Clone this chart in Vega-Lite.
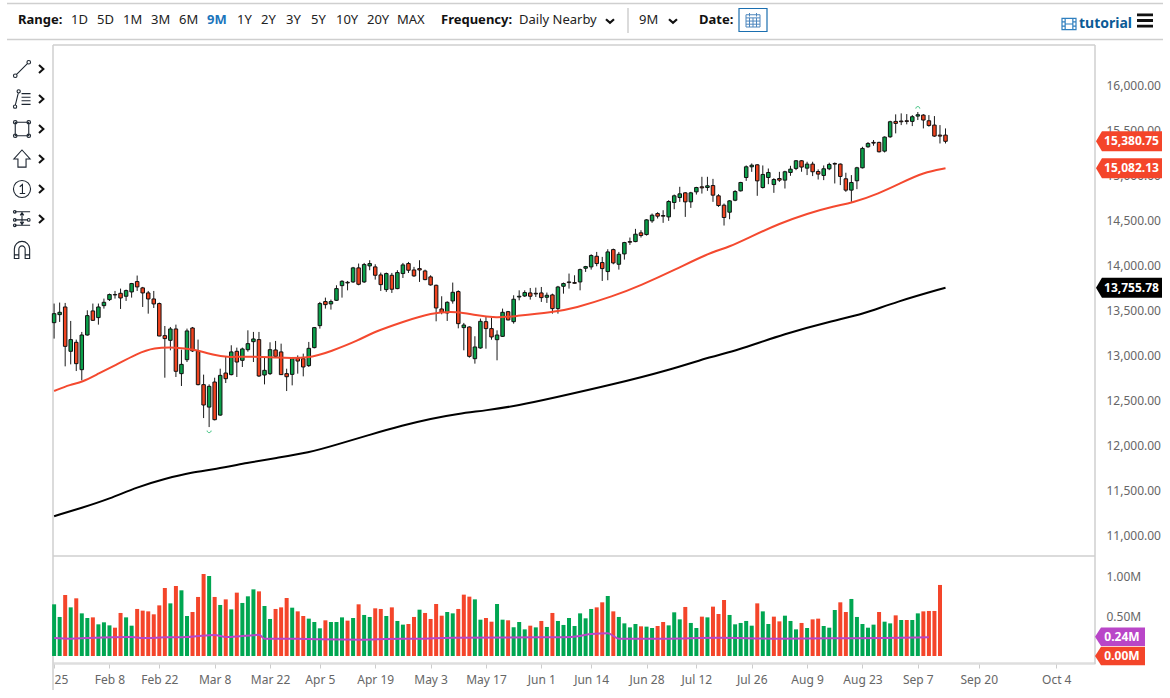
{"$schema":"https://vega.github.io/schema/vega-lite/v6.json","width":1170,"height":698,"autosize":{"type":"none"},"padding":0,"background":"white","config":{"view":{"stroke":null},"font":"Noto Sans"},
"datasets":{
"candles":[
{"d":0,"o":13368,"h":13580,"l":13191,"c":13468,"t":"up"},{"d":1,"o":13457,"h":13591,"l":13376,"c":13483,"t":"up"},{"d":2,"o":13542,"h":13587,"l":12883,"c":13105,"t":"down"},{"d":3,"o":13050,"h":13387,"l":12905,"c":13180,"t":"up"},{"d":4,"o":13150,"h":13180,"l":12831,"c":12913,"t":"down"},{"d":5,"o":12846,"h":13265,"l":12728,"c":13231,"t":"up"},{"d":6,"o":13231,"h":13505,"l":13224,"c":13446,"t":"up"},{"d":7,"o":13498,"h":13580,"l":13387,"c":13394,"t":"down"},{"d":8,"o":13424,"h":13580,"l":13346,"c":13542,"t":"up"},{"d":9,"o":13557,"h":13635,"l":13524,"c":13594,"t":"up"},
{"d":10,"o":13624,"h":13691,"l":13609,"c":13680,"t":"up"},{"d":11,"o":13680,"h":13720,"l":13635,"c":13676,"t":"down"},{"d":12,"o":13694,"h":13746,"l":13520,"c":13642,"t":"down"},{"d":13,"o":13661,"h":13735,"l":13609,"c":13724,"t":"up"},{"d":14,"o":13709,"h":13809,"l":13646,"c":13802,"t":"up"},{"d":15,"o":13824,"h":13891,"l":13720,"c":13765,"t":"down"},{"d":16,"o":13754,"h":13765,"l":13542,"c":13698,"t":"down"},{"d":17,"o":13698,"h":13720,"l":13468,"c":13631,"t":"down"},{"d":18,"o":13631,"h":13720,"l":13531,"c":13576,"t":"down"},{"d":19,"o":13580,"h":13591,"l":13217,"c":13220,"t":"down"},
{"d":20,"o":13224,"h":13331,"l":12757,"c":13191,"t":"down"},{"d":21,"o":13172,"h":13320,"l":13061,"c":13298,"t":"up"},{"d":22,"o":13298,"h":13346,"l":12765,"c":12828,"t":"down"},{"d":23,"o":12802,"h":13068,"l":12665,"c":12905,"t":"up"},{"d":24,"o":12957,"h":13302,"l":12931,"c":13276,"t":"up"},{"d":25,"o":13309,"h":13320,"l":13043,"c":13054,"t":"down"},{"d":26,"o":13054,"h":13180,"l":12672,"c":12680,"t":"down"},{"d":27,"o":12680,"h":12791,"l":12309,"c":12454,"t":"down"},{"d":28,"o":12431,"h":12683,"l":12209,"c":12661,"t":"up"},{"d":29,"o":12709,"h":12757,"l":12283,"c":12291,"t":"down"},
{"d":30,"o":12342,"h":12857,"l":12335,"c":12783,"t":"up"},{"d":31,"o":12809,"h":12987,"l":12698,"c":12746,"t":"down"},{"d":32,"o":12791,"h":13117,"l":12783,"c":13043,"t":"up"},{"d":33,"o":13050,"h":13091,"l":12765,"c":12931,"t":"down"},{"d":34,"o":12950,"h":13091,"l":12876,"c":13076,"t":"up"},{"d":35,"o":13068,"h":13283,"l":13046,"c":13135,"t":"up"},{"d":36,"o":13157,"h":13265,"l":12931,"c":13187,"t":"up"},{"d":37,"o":13180,"h":13265,"l":12765,"c":12776,"t":"down"},{"d":38,"o":12787,"h":12987,"l":12683,"c":12839,"t":"up"},{"d":39,"o":12802,"h":13150,"l":12787,"c":13068,"t":"up"},
{"d":40,"o":13065,"h":13165,"l":12987,"c":12994,"t":"down"},{"d":41,"o":13043,"h":13135,"l":12787,"c":12791,"t":"down"},{"d":42,"o":12802,"h":12857,"l":12609,"c":12768,"t":"down"},{"d":43,"o":12794,"h":12987,"l":12672,"c":12968,"t":"up"},{"d":44,"o":12972,"h":13005,"l":12802,"c":12942,"t":"down"},{"d":45,"o":12968,"h":13024,"l":12772,"c":12876,"t":"down"},{"d":46,"o":12891,"h":13154,"l":12876,"c":13083,"t":"up"},{"d":47,"o":13091,"h":13320,"l":13083,"c":13313,"t":"up"},{"d":48,"o":13335,"h":13598,"l":13302,"c":13580,"t":"up"},{"d":49,"o":13602,"h":13646,"l":13524,"c":13568,"t":"down"},
{"d":50,"o":13576,"h":13624,"l":13513,"c":13602,"t":"up"},{"d":51,"o":13616,"h":13783,"l":13609,"c":13746,"t":"up"},{"d":52,"o":13779,"h":13839,"l":13646,"c":13827,"t":"up"},{"d":53,"o":13816,"h":13831,"l":13727,"c":13809,"t":"down"},{"d":54,"o":13820,"h":13987,"l":13809,"c":13976,"t":"up"},{"d":55,"o":13976,"h":14024,"l":13783,"c":13794,"t":"down"},{"d":56,"o":13820,"h":14031,"l":13809,"c":14013,"t":"up"},{"d":57,"o":13998,"h":14061,"l":13950,"c":14024,"t":"up"},{"d":58,"o":13987,"h":14016,"l":13846,"c":13894,"t":"down"},{"d":59,"o":13898,"h":13924,"l":13720,"c":13790,"t":"down"},
{"d":60,"o":13735,"h":13924,"l":13709,"c":13913,"t":"up"},{"d":61,"o":13894,"h":13920,"l":13698,"c":13739,"t":"down"},{"d":62,"o":13746,"h":13950,"l":13739,"c":13924,"t":"up"},{"d":63,"o":13913,"h":14031,"l":13864,"c":14009,"t":"up"},{"d":64,"o":14024,"h":14042,"l":13920,"c":13950,"t":"down"},{"d":65,"o":13953,"h":13987,"l":13876,"c":13887,"t":"down"},{"d":66,"o":13968,"h":14061,"l":13820,"c":13953,"t":"down"},{"d":67,"o":13942,"h":13957,"l":13839,"c":13846,"t":"down"},{"d":68,"o":13876,"h":13894,"l":13779,"c":13787,"t":"down"},{"d":69,"o":13783,"h":13790,"l":13383,"c":13531,"t":"down"},
{"d":70,"o":13520,"h":13661,"l":13461,"c":13483,"t":"down"},{"d":71,"o":13476,"h":13605,"l":13387,"c":13594,"t":"up"},{"d":72,"o":13609,"h":13813,"l":13579,"c":13705,"t":"up"},{"d":73,"o":13713,"h":13727,"l":13305,"c":13357,"t":"down"},{"d":74,"o":13313,"h":13365,"l":13061,"c":13342,"t":"up"},{"d":75,"o":13320,"h":13328,"l":12979,"c":12994,"t":"down"},{"d":76,"o":12968,"h":13217,"l":12913,"c":13098,"t":"up"},{"d":77,"o":13087,"h":13413,"l":13079,"c":13383,"t":"up"},{"d":78,"o":13379,"h":13439,"l":13079,"c":13302,"t":"down"},{"d":79,"o":13302,"h":13424,"l":13179,"c":13209,"t":"down"},
{"d":80,"o":13179,"h":13283,"l":12950,"c":13231,"t":"up"},{"d":81,"o":13216,"h":13524,"l":13209,"c":13483,"t":"up"},{"d":82,"o":13490,"h":13498,"l":13394,"c":13398,"t":"down"},{"d":83,"o":13379,"h":13672,"l":13357,"c":13628,"t":"up"},{"d":84,"o":13653,"h":13727,"l":13616,"c":13661,"t":"up"},{"d":85,"o":13664,"h":13727,"l":13653,"c":13702,"t":"up"},{"d":86,"o":13698,"h":13753,"l":13624,"c":13661,"t":"down"},{"d":87,"o":13694,"h":13757,"l":13653,"c":13687,"t":"down"},{"d":88,"o":13698,"h":13764,"l":13598,"c":13646,"t":"down"},{"d":89,"o":13650,"h":13702,"l":13587,"c":13672,"t":"up"},
{"d":90,"o":13676,"h":13690,"l":13468,"c":13524,"t":"down"},{"d":91,"o":13524,"h":13776,"l":13468,"c":13764,"t":"up"},{"d":92,"o":13772,"h":13813,"l":13690,"c":13802,"t":"up"},{"d":93,"o":13820,"h":13913,"l":13746,"c":13813,"t":"down"},{"d":94,"o":13813,"h":13894,"l":13801,"c":13805,"t":"down"},{"d":95,"o":13820,"h":13968,"l":13727,"c":13957,"t":"up"},{"d":96,"o":13972,"h":13998,"l":13931,"c":13990,"t":"up"},{"d":97,"o":13987,"h":14127,"l":13957,"c":14113,"t":"up"},{"d":98,"o":14105,"h":14153,"l":13994,"c":14024,"t":"down"},{"d":99,"o":14035,"h":14098,"l":13831,"c":13968,"t":"down"},
{"d":100,"o":13935,"h":14183,"l":13839,"c":14153,"t":"up"},{"d":101,"o":14179,"h":14190,"l":14016,"c":14031,"t":"down"},{"d":102,"o":14016,"h":14153,"l":13957,"c":14127,"t":"up"},{"d":103,"o":14131,"h":14265,"l":14068,"c":14257,"t":"up"},{"d":104,"o":14268,"h":14313,"l":14231,"c":14261,"t":"down"},{"d":105,"o":14268,"h":14409,"l":14261,"c":14350,"t":"up"},{"d":106,"o":14365,"h":14394,"l":14313,"c":14335,"t":"down"},{"d":107,"o":14346,"h":14516,"l":14335,"c":14509,"t":"up"},{"d":108,"o":14498,"h":14579,"l":14476,"c":14561,"t":"up"},{"d":109,"o":14579,"h":14594,"l":14524,"c":14550,"t":"down"},
{"d":110,"o":14557,"h":14616,"l":14476,"c":14550,"t":"down"},{"d":111,"o":14542,"h":14727,"l":14498,"c":14713,"t":"up"},{"d":112,"o":14702,"h":14790,"l":14627,"c":14776,"t":"up"},{"d":113,"o":14757,"h":14876,"l":14709,"c":14798,"t":"up"},{"d":114,"o":14809,"h":14816,"l":14542,"c":14709,"t":"down"},{"d":115,"o":14709,"h":14820,"l":14642,"c":14809,"t":"up"},{"d":116,"o":14820,"h":14876,"l":14790,"c":14868,"t":"up"},{"d":117,"o":14876,"h":14987,"l":14801,"c":14864,"t":"down"},{"d":118,"o":14868,"h":14987,"l":14831,"c":14887,"t":"up"},{"d":119,"o":14890,"h":14964,"l":14709,"c":14783,"t":"down"},
{"d":120,"o":14776,"h":14794,"l":14653,"c":14668,"t":"down"},{"d":121,"o":14672,"h":14690,"l":14446,"c":14535,"t":"down"},{"d":122,"o":14594,"h":14727,"l":14516,"c":14720,"t":"up"},{"d":123,"o":14727,"h":14839,"l":14716,"c":14824,"t":"up"},{"d":124,"o":14831,"h":14931,"l":14824,"c":14924,"t":"up"},{"d":125,"o":14979,"h":15113,"l":14942,"c":15098,"t":"up"},{"d":126,"o":15098,"h":15135,"l":15042,"c":15116,"t":"up"},{"d":127,"o":15120,"h":15127,"l":14776,"c":14942,"t":"down"},{"d":128,"o":14868,"h":15113,"l":14857,"c":15013,"t":"up"},{"d":129,"o":14979,"h":15079,"l":14905,"c":15035,"t":"up"},
{"d":130,"o":14901,"h":14972,"l":14809,"c":14957,"t":"up"},{"d":131,"o":14968,"h":15042,"l":14931,"c":14950,"t":"down"},{"d":132,"o":14950,"h":15054,"l":14857,"c":15043,"t":"up"},{"d":133,"o":15035,"h":15109,"l":14998,"c":15072,"t":"up"},{"d":134,"o":15080,"h":15172,"l":15061,"c":15165,"t":"up"},{"d":135,"o":15165,"h":15172,"l":15043,"c":15095,"t":"down"},{"d":136,"o":15083,"h":15154,"l":15006,"c":15128,"t":"up"},{"d":137,"o":15128,"h":15154,"l":14995,"c":15043,"t":"down"},{"d":138,"o":15046,"h":15069,"l":14957,"c":15017,"t":"down"},{"d":139,"o":15002,"h":15113,"l":14950,"c":15076,"t":"up"},
{"d":140,"o":15076,"h":15143,"l":15061,"c":15124,"t":"up"},{"d":141,"o":15135,"h":15146,"l":14913,"c":15128,"t":"down"},{"d":142,"o":15128,"h":15135,"l":14895,"c":14991,"t":"down"},{"d":143,"o":14965,"h":15032,"l":14820,"c":14839,"t":"down"},{"d":144,"o":14839,"h":15006,"l":14709,"c":14924,"t":"up"},{"d":145,"o":14943,"h":15098,"l":14850,"c":15087,"t":"up"},{"d":146,"o":15087,"h":15320,"l":15080,"c":15302,"t":"up"},{"d":147,"o":15320,"h":15372,"l":15309,"c":15357,"t":"up"},{"d":148,"o":15369,"h":15395,"l":15332,"c":15361,"t":"down"},{"d":149,"o":15369,"h":15376,"l":15257,"c":15265,"t":"down"},
{"d":150,"o":15272,"h":15435,"l":15257,"c":15428,"t":"up"},{"d":151,"o":15431,"h":15609,"l":15420,"c":15598,"t":"up"},{"d":152,"o":15602,"h":15680,"l":15469,"c":15580,"t":"down"},{"d":153,"o":15606,"h":15691,"l":15561,"c":15598,"t":"down"},{"d":154,"o":15609,"h":15683,"l":15569,"c":15602,"t":"down"},{"d":155,"o":15602,"h":15672,"l":15550,"c":15654,"t":"up"},{"d":156,"o":15661,"h":15706,"l":15617,"c":15676,"t":"up"},{"d":157,"o":15672,"h":15683,"l":15524,"c":15617,"t":"down"},{"d":158,"o":15609,"h":15672,"l":15543,"c":15557,"t":"down"},{"d":159,"o":15561,"h":15661,"l":15431,"c":15439,"t":"down"},
{"d":160,"o":15450,"h":15561,"l":15357,"c":15439,"t":"down"},{"d":161,"o":15450,"h":15524,"l":15357,"c":15381,"t":"down"}],
"sma50":[{"d":0,"p":12609},{"d":3,"p":12683},{"d":5,"p":12705},{"d":8,"p":12802},{"d":11,"p":12894},{"d":15,"p":13024},{"d":18,"p":13091},{"d":22,"p":13094},{"d":25,"p":13076},{"d":29,"p":13006},{"d":31,"p":12983},{"d":35,"p":12994},{"d":40,"p":12980},{"d":46,"p":12969},{"d":50,"p":13050},{"d":55,"p":13172},{"d":58,"p":13272},{"d":63,"p":13376},{"d":68,"p":13480},{"d":73,"p":13494},{"d":76,"p":13450},{"d":80,"p":13420},{"d":83,"p":13439},{"d":90,"p":13483},{"d":94,"p":13528},{"d":101,"p":13661},{"d":106,"p":13783},{"d":112,"p":13950},{"d":118,"p":14135},{"d":122,"p":14209},{"d":126,"p":14328},{"d":131,"p":14468},{"d":136,"p":14579},{"d":141,"p":14665},{"d":144,"p":14694},{"d":149,"p":14802},{"d":153,"p":14920},{"d":157,"p":15035},{"d":161,"p":15082}],
"sma200":[{"d":0,"p":11220},{"d":5,"p":11313},{"d":10,"p":11413},{"d":15,"p":11543},{"d":20,"p":11635},{"d":25,"p":11709},{"d":29,"p":11739},{"d":35,"p":11813},{"d":40,"p":11865},{"d":46,"p":11924},{"d":51,"p":12013},{"d":57,"p":12124},{"d":63,"p":12228},{"d":68,"p":12302},{"d":73,"p":12357},{"d":78,"p":12394},{"d":84,"p":12450},{"d":90,"p":12530},{"d":101,"p":12683},{"d":111,"p":12839},{"d":119,"p":12998},{"d":123,"p":13053},{"d":132,"p":13246},{"d":141,"p":13394},{"d":146,"p":13461},{"d":152,"p":13598},{"d":161,"p":13756}],
"volume":[
{"d":0,"v":0.646,"t":"up"},{"d":1,"v":0.488,"t":"up"},{"d":2,"v":0.763,"t":"down"},{"d":3,"v":0.608,"t":"up"},{"d":4,"v":0.721,"t":"down"},{"d":5,"v":0.533,"t":"up"},{"d":6,"v":0.475,"t":"up"},{"d":7,"v":0.483,"t":"down"},{"d":8,"v":0.396,"t":"up"},{"d":9,"v":0.421,"t":"up"},
{"d":10,"v":0.383,"t":"up"},{"d":11,"v":0.354,"t":"down"},{"d":12,"v":0.538,"t":"down"},{"d":13,"v":0.483,"t":"up"},{"d":14,"v":0.379,"t":"up"},{"d":15,"v":0.588,"t":"down"},{"d":16,"v":0.567,"t":"down"},{"d":17,"v":0.558,"t":"down"},{"d":18,"v":0.521,"t":"down"},{"d":19,"v":0.633,"t":"down"},
{"d":20,"v":0.85,"t":"down"},{"d":21,"v":0.658,"t":"up"},{"d":22,"v":0.875,"t":"down"},{"d":23,"v":0.821,"t":"up"},{"d":24,"v":0.5,"t":"up"},{"d":25,"v":0.55,"t":"down"},{"d":26,"v":0.738,"t":"down"},{"d":27,"v":1.025,"t":"down"},{"d":28,"v":1.0,"t":"up"},{"d":29,"v":0.738,"t":"down"},
{"d":30,"v":0.638,"t":"up"},{"d":31,"v":0.708,"t":"down"},{"d":32,"v":0.583,"t":"up"},{"d":33,"v":0.792,"t":"down"},{"d":34,"v":0.663,"t":"up"},{"d":35,"v":0.746,"t":"up"},{"d":36,"v":0.833,"t":"up"},{"d":37,"v":0.808,"t":"down"},{"d":38,"v":0.625,"t":"up"},{"d":39,"v":0.463,"t":"up"},
{"d":40,"v":0.588,"t":"down"},{"d":41,"v":0.608,"t":"down"},{"d":42,"v":0.725,"t":"down"},{"d":43,"v":0.604,"t":"up"},{"d":44,"v":0.558,"t":"down"},{"d":45,"v":0.5,"t":"down"},{"d":46,"v":0.467,"t":"up"},{"d":47,"v":0.425,"t":"up"},{"d":48,"v":0.346,"t":"up"},{"d":49,"v":0.446,"t":"down"},
{"d":50,"v":0.425,"t":"up"},{"d":51,"v":0.425,"t":"up"},{"d":52,"v":0.483,"t":"up"},{"d":53,"v":0.442,"t":"down"},{"d":54,"v":0.475,"t":"up"},{"d":55,"v":0.646,"t":"down"},{"d":56,"v":0.513,"t":"up"},{"d":57,"v":0.488,"t":"up"},{"d":58,"v":0.596,"t":"down"},{"d":59,"v":0.588,"t":"down"},
{"d":60,"v":0.5,"t":"up"},{"d":61,"v":0.608,"t":"down"},{"d":62,"v":0.438,"t":"up"},{"d":63,"v":0.392,"t":"up"},{"d":64,"v":0.4,"t":"down"},{"d":65,"v":0.488,"t":"down"},{"d":66,"v":0.579,"t":"up"},{"d":67,"v":0.538,"t":"down"},{"d":68,"v":0.463,"t":"down"},{"d":69,"v":0.65,"t":"down"},
{"d":70,"v":0.504,"t":"down"},{"d":71,"v":0.55,"t":"up"},{"d":72,"v":0.533,"t":"up"},{"d":73,"v":0.588,"t":"down"},{"d":74,"v":0.767,"t":"down"},{"d":75,"v":0.742,"t":"down"},{"d":76,"v":0.708,"t":"up"},{"d":77,"v":0.454,"t":"up"},{"d":78,"v":0.475,"t":"down"},{"d":79,"v":0.429,"t":"down"},
{"d":80,"v":0.65,"t":"up"},{"d":81,"v":0.454,"t":"up"},{"d":82,"v":0.446,"t":"down"},{"d":83,"v":0.358,"t":"up"},{"d":84,"v":0.425,"t":"up"},{"d":85,"v":0.333,"t":"up"},{"d":86,"v":0.379,"t":"down"},{"d":87,"v":0.358,"t":"up"},{"d":88,"v":0.438,"t":"down"},{"d":89,"v":0.363,"t":"up"},
{"d":90,"v":0.538,"t":"down"},{"d":91,"v":0.438,"t":"up"},{"d":92,"v":0.388,"t":"up"},{"d":93,"v":0.475,"t":"up"},{"d":94,"v":0.375,"t":"up"},{"d":95,"v":0.533,"t":"up"},{"d":96,"v":0.471,"t":"up"},{"d":97,"v":0.588,"t":"up"},{"d":98,"v":0.608,"t":"down"},{"d":99,"v":0.671,"t":"down"},
{"d":100,"v":0.75,"t":"up"},{"d":101,"v":0.558,"t":"down"},{"d":102,"v":0.488,"t":"up"},{"d":103,"v":0.408,"t":"up"},{"d":104,"v":0.358,"t":"up"},{"d":105,"v":0.4,"t":"up"},{"d":106,"v":0.371,"t":"down"},{"d":107,"v":0.367,"t":"up"},{"d":108,"v":0.35,"t":"up"},{"d":109,"v":0.375,"t":"down"},
{"d":110,"v":0.425,"t":"down"},{"d":111,"v":0.383,"t":"up"},{"d":112,"v":0.546,"t":"up"},{"d":113,"v":0.458,"t":"up"},{"d":114,"v":0.613,"t":"down"},{"d":115,"v":0.413,"t":"up"},{"d":116,"v":0.35,"t":"up"},{"d":117,"v":0.492,"t":"down"},{"d":118,"v":0.483,"t":"up"},{"d":119,"v":0.617,"t":"down"},
{"d":120,"v":0.525,"t":"down"},{"d":121,"v":0.7,"t":"down"},{"d":122,"v":0.513,"t":"up"},{"d":123,"v":0.396,"t":"up"},{"d":124,"v":0.413,"t":"up"},{"d":125,"v":0.438,"t":"up"},{"d":126,"v":0.379,"t":"up"},{"d":127,"v":0.658,"t":"down"},{"d":128,"v":0.558,"t":"up"},{"d":129,"v":0.4,"t":"up"},
{"d":130,"v":0.492,"t":"down"},{"d":131,"v":0.433,"t":"down"},{"d":132,"v":0.504,"t":"up"},{"d":133,"v":0.438,"t":"up"},{"d":134,"v":0.333,"t":"up"},{"d":135,"v":0.413,"t":"down"},{"d":136,"v":0.35,"t":"up"},{"d":137,"v":0.458,"t":"down"},{"d":138,"v":0.467,"t":"down"},{"d":139,"v":0.375,"t":"up"},
{"d":140,"v":0.354,"t":"up"},{"d":141,"v":0.575,"t":"up"},{"d":142,"v":0.671,"t":"down"},{"d":143,"v":0.55,"t":"down"},{"d":144,"v":0.713,"t":"up"},{"d":145,"v":0.488,"t":"up"},{"d":146,"v":0.4,"t":"up"},{"d":147,"v":0.354,"t":"up"},{"d":148,"v":0.392,"t":"up"},{"d":149,"v":0.55,"t":"down"},
{"d":150,"v":0.429,"t":"up"},{"d":151,"v":0.408,"t":"up"},{"d":152,"v":0.508,"t":"down"},{"d":153,"v":0.45,"t":"up"},{"d":154,"v":0.45,"t":"down"},{"d":155,"v":0.45,"t":"up"},{"d":156,"v":0.533,"t":"up"},{"d":157,"v":0.558,"t":"down"},{"d":158,"v":0.563,"t":"down"},{"d":159,"v":0.563,"t":"down"},{"d":160,"v":0.888,"t":"down"}],
"volAvg":[{"d":0,"a":0.225},{"d":3,"a":0.217},{"d":6,"a":0.225},{"d":14,"a":0.238},{"d":16,"a":0.225},{"d":20,"a":0.233},{"d":24,"a":0.238},{"d":26,"a":0.25},{"d":29,"a":0.263},{"d":31,"a":0.238},{"d":34,"a":0.25},{"d":36,"a":0.258},{"d":37,"a":0.267},{"d":38,"a":0.217},{"d":44,"a":0.217},{"d":48,"a":0.208},{"d":56,"a":0.204},{"d":60,"a":0.213},{"d":66,"a":0.217},{"d":72,"a":0.229},{"d":88,"a":0.233},{"d":92,"a":0.233},{"d":95,"a":0.25},{"d":97,"a":0.275},{"d":100,"a":0.283},{"d":102,"a":0.217},{"d":110,"a":0.217},{"d":120,"a":0.229},{"d":130,"a":0.217},{"d":140,"a":0.221},{"d":150,"a":0.225},{"d":158,"a":0.233}]
},
"resolve":{"scale":{"x":"independent","y":"independent","color":"independent","shape":"independent"}},
"layer":[
{"data":{"values":[{"xa":0,"xb":4,"ya":0,"yb":0},{"xa":0,"xb":4,"ya":3,"yb":3},{"xa":1,"xb":3,"ya":4,"yb":4},{"xa":1,"xb":3,"ya":5,"yb":5},{"xa":1,"xb":1,"ya":4,"yb":7},{"xa":3,"xb":3,"ya":4,"yb":6},{"xa":2,"xb":2,"ya":1,"yb":2}]},
"mark":{"type":"rule","color":"#cfcfcf","strokeWidth":1.5},
"encoding":{"x":{"field":"xa","type":"quantitative","axis":null,"scale":{"domain":[0,1,2,3,4],"range":[7,53,628,1095,1163],"zero":false,"nice":false}},"x2":{"field":"xb"},"y":{"field":"ya","type":"quantitative","axis":null,"scale":{"domain":[0,1,2,3,4,5,6,7],"range":[3.5,8,33,39.5,45,556,664,690],"zero":false,"nice":false}},"y2":{"field":"yb"}}},
{"data":{"values":[{"tick":11000},{"tick":16000}]},"mark":{"type":"point","opacity":0},
"encoding":{"y":{"field":"tick","type":"quantitative","title":null,"scale":{"domain":[10789,16450],"range":[555,45],"zero":false,"nice":false},"axis":{"orient":"right","offset":-75,"values":[11000,11500,12000,12500,13000,13500,14000,14500,15000,15500,16000],"format":",.2f","grid":false,"ticks":false,"domain":false,"labelColor":"#666666","labelFontSize":12,"labelFont":"Noto Sans","labelPadding":11}}}},
{"data":{"values":[{"tick":0.5},{"tick":1}]},"mark":{"type":"point","opacity":0},
"encoding":{"y":{"field":"tick","type":"quantitative","title":null,"scale":{"domain":[-0.0625,1.25],"range":[661,556],"zero":false,"nice":false},"axis":{"orient":"right","offset":-75,"values":[0.5,1],"labelExpr":"format(datum.value,'.2f')+'M'","grid":false,"ticks":false,"domain":false,"labelColor":"#666666","labelFontSize":12,"labelFont":"Noto Sans","labelPadding":11}}}},
{"data":{"values":[{"icon":"trend","row":0},{"icon":"fib","row":1},{"icon":"box","row":2},{"icon":"arrow","row":3},{"icon":"one","row":4},{"icon":"level","row":5},{"icon":"magnet","row":6.03}]},
"mark":{"type":"point","filled":false,"size":324,"stroke":"#1c2530","strokeWidth":1.1,"opacity":1},
"encoding":{"x":{"datum":0,"type":"quantitative","axis":null,"scale":{"domain":[0,1],"range":[22,41],"zero":false,"nice":false}},"y":{"field":"row","type":"quantitative","axis":null,"scale":{"domain":[0,6],"range":[69,249],"zero":false,"nice":false}},
"shape":{"field":"icon","type":"nominal","legend":null,"scale":{"domain":["trend","fib","box","arrow","one","level","magnet"],"range":[
"M-0.6 0.6 L0.6 -0.6 M-0.95 0.75 A0.2 0.2 0 1 1 -0.55 0.75 A0.2 0.2 0 1 1 -0.95 0.75 M0.55 -0.75 A0.2 0.2 0 1 1 0.95 -0.75 A0.2 0.2 0 1 1 0.55 -0.75",
"M-0.75 0.7 L-0.4 -0.7 M-0.95 0.85 A0.18 0.18 0 1 1 -0.59 0.85 A0.18 0.18 0 1 1 -0.95 0.85 M-0.55 -0.85 A0.18 0.18 0 1 1 -0.19 -0.85 A0.18 0.18 0 1 1 -0.55 -0.85 M-0.05 -0.6 L0.95 -0.6 M-0.05 -0.2 L0.95 -0.2 M-0.05 0.2 L0.95 0.2 M-0.05 0.6 L0.95 0.6",
"M-0.75 -0.75 L0.75 -0.75 L0.75 0.75 L-0.75 0.75 Z M-0.95 -0.75 A0.2 0.2 0 1 1 -0.55 -0.75 A0.2 0.2 0 1 1 -0.95 -0.75 M0.55 -0.75 A0.2 0.2 0 1 1 0.95 -0.75 A0.2 0.2 0 1 1 0.55 -0.75 M-0.95 0.75 A0.2 0.2 0 1 1 -0.55 0.75 A0.2 0.2 0 1 1 -0.95 0.75 M0.55 0.75 A0.2 0.2 0 1 1 0.95 0.75 A0.2 0.2 0 1 1 0.55 0.75",
"M0 -1 L0.9 0 L0.45 0 L0.45 0.9 L-0.45 0.9 L-0.45 0 L-0.9 0 Z",
"M-0.95 0 A0.95 0.95 0 1 1 0.95 0 A0.95 0.95 0 1 1 -0.95 0 M-0.25 -0.25 L0.05 -0.5 L0.05 0.5 M-0.25 0.5 L0.35 0.5",
"M-0.8 -0.8 L0.9 -0.8 M-0.8 0.1 L0.6 0.1 M-0.8 0.7 L0.9 0.7 M0 -0.7 L0 0.6 M-0.2 -0.4 L0 -0.7 L0.2 -0.4 M-0.2 0.3 L0 0.6 L0.2 0.3 M-0.95 -0.8 A0.15 0.15 0 1 1 -0.65 -0.8 A0.15 0.15 0 1 1 -0.95 -0.8 M-0.95 0.1 A0.15 0.15 0 1 1 -0.65 0.1 A0.15 0.15 0 1 1 -0.95 0.1 M-0.95 0.7 A0.15 0.15 0 1 1 -0.65 0.7 A0.15 0.15 0 1 1 -0.95 0.7 M0.6 0.1 A0.15 0.15 0 1 1 0.9 0.1 A0.15 0.15 0 1 1 0.6 0.1",
"M-0.85 0.95 L-0.85 -0.1 A0.85 0.85 0 0 1 0.85 -0.1 L0.85 0.95 L0.35 0.95 L0.35 -0.1 A0.35 0.35 0 0 0 -0.35 -0.1 L-0.35 0.95 Z M-0.85 0.55 L-0.35 0.55 M0.35 0.55 L0.85 0.55"]}}}},
{"data":{"values":[{"col":1,"row":0},{"col":1,"row":1},{"col":1,"row":2},{"col":1,"row":3},{"col":1,"row":4},{"col":1,"row":5}]},
"mark":{"type":"point","filled":false,"size":64,"stroke":"#111","strokeWidth":2,"opacity":1,"shape":"M-0.5 -1 L0.6 0 L-0.5 1"},
"encoding":{"x":{"field":"col","type":"quantitative","axis":null,"scale":{"domain":[0,1],"range":[22,41],"zero":false,"nice":false}},"y":{"field":"row","type":"quantitative","axis":null,"scale":{"domain":[0,6],"range":[69,249],"zero":false,"nice":false}}}},
{"encoding":{"x":{"field":"slot","type":"quantitative","axis":null,"scale":{"domain":[0,1,2,3,4,5,6,7,8,9,10,11,12,13,14,15,16,17,18,19,20,21,22,23],"range":[18,71,97,123,151,179,207,237,261,286,311,336,367,397,441,519,639,699,1079,610,673,753,1069,1145],"zero":false,"nice":false}},"y":{"field":"row","type":"quantitative","axis":null,"scale":{"domain":[0,1,2,3],"range":[20,21,24,20.5],"zero":false,"nice":false}}},
"layer":[
{"data":{"values":[{"label":"1D","slot":1,"row":0},{"label":"5D","slot":2,"row":0},{"label":"1M","slot":3,"row":0},{"label":"3M","slot":4,"row":0},{"label":"6M","slot":5,"row":0},{"label":"1Y","slot":7,"row":0},{"label":"2Y","slot":8,"row":0},{"label":"3Y","slot":9,"row":0},{"label":"5Y","slot":10,"row":0},{"label":"10Y","slot":11,"row":0},{"label":"20Y","slot":12,"row":0},{"label":"MAX","slot":13,"row":0},{"label":"Daily Nearby","slot":15,"row":0},{"label":"9M","slot":16,"row":0}]},
"mark":{"type":"text","align":"left","baseline":"middle","fontSize":13,"color":"#222"},"encoding":{"text":{"field":"label"}}},
{"data":{"values":[{"label":"Range:","slot":0,"row":0},{"label":"Frequency:","slot":14,"row":0},{"label":"Date:","slot":17,"row":0}]},
"mark":{"type":"text","align":"left","baseline":"middle","fontSize":13,"fontWeight":"bold","color":"#111"},"encoding":{"text":{"field":"label"}}},
{"data":{"values":[{"label":"9M","slot":6,"row":0}]},"mark":{"type":"text","align":"left","baseline":"middle","fontSize":13,"fontWeight":"bold","color":"#1b75bc"},"encoding":{"text":{"field":"label"}}},
{"data":{"values":[{"label":"tutorial","slot":18,"row":2}]},"mark":{"type":"text","align":"left","baseline":"middle","fontSize":14,"fontWeight":"bold","color":"#0b5a96"},"encoding":{"text":{"field":"label"}}},
{"data":{"values":[{"slot":19,"row":1},{"slot":20,"row":1}]},"mark":{"type":"point","filled":false,"size":64,"stroke":"#111","strokeWidth":2.2,"opacity":1,"shape":"M-1 -0.45 L0 0.45 L1 -0.45"}},
{"data":{"values":[{"slot":21,"row":0}]},"mark":{"type":"point","filled":false,"size":784,"stroke":"#1b6fb0","strokeWidth":1.2,"opacity":1,"shape":"M-1 -0.82 L1 -0.82 L1 0.82 L-1 0.82 Z"}},
{"data":{"values":[{"slot":21,"row":0}]},"mark":{"type":"point","filled":false,"size":196,"stroke":"#4d86bd","strokeWidth":1,"opacity":1,"shape":"M-1 -0.75 L1 -0.75 L1 1 L-1 1 Z M-0.5 -1 L-0.5 -0.5 M0.5 -1 L0.5 -0.5 M-1 -0.3 L1 -0.3 M-1 0.15 L1 0.15 M-1 0.6 L1 0.6 M-0.5 -0.3 L-0.5 1 M0 -0.3 L0 1 M0.5 -0.3 L0.5 1"}},
{"data":{"values":[{"slot":22,"row":2}]},"mark":{"type":"point","filled":false,"size":196,"stroke":"#2f7fbf","strokeWidth":1.2,"opacity":1,"shape":"M-1 -0.8 L1 -0.8 L1 0.8 L-1 0.8 Z M-0.55 -0.8 L-0.55 0.8 M0.55 -0.8 L0.55 0.8 M-1 -0.3 L-0.55 -0.3 M-1 0.3 L-0.55 0.3 M0.55 -0.3 L1 -0.3 M0.55 0.3 L1 0.3 M-0.55 0 L0.55 0"}},
{"data":{"values":[{"slot":23,"row":3}]},"mark":{"type":"point","filled":false,"size":256,"stroke":"#111","strokeWidth":2.8,"opacity":1,"shape":"M-1 -0.7 L1 -0.7 M-1 0 L1 0 M-1 0.7 L1 0.7"}}
]},
{"encoding":{"x":{"field":"d","type":"quantitative","title":null,"scale":{"domain":[-0.2,188],"range":[53,1095],"zero":false,"nice":false,"padding":0},"axis":{"orient":"bottom","offset":-35,"values":[0,10,19,29,39,48,58,68,78,88,97,107,116,126,136,146,156,167,181],"labelExpr":"{'0':'\u00a025','10':'Feb 8','19':'Feb 22','29':'Mar 8','39':'Mar 22','48':'Apr 5','58':'Apr 19','68':'May 3','78':'May 17','88':'Jun 1','97':'Jun 14','107':'Jun 28','116':'Jul 12','126':'Jul 26','136':'Aug 9','146':'Aug 23','156':'Sep 7','167':'Sep 20','181':'Oct 4'}[''+datum.value]","labelAlign":{"condition":{"test":"datum.value==0","value":"left"},"value":"center"},"labelOverlap":false,"labelFlush":false,"labelBound":false,"grid":false,"domainColor":"#dedede","domainWidth":2.5,"tickColor":"#cccccc","tickSize":5,"labelColor":"#666666","labelFontSize":12,"labelFont":"Noto Sans","labelPadding":6}}},
"layer":[
{"data":{"name":"volume"},"mark":{"type":"bar","size":4},"encoding":{"y":{"field":"v","type":"quantitative","stack":null,"axis":null,"scale":{"domain":[-0.0625,1.25],"range":[661,556],"zero":false,"nice":false}},"y2":{"datum":0},"color":{"field":"t","type":"nominal","legend":null,"scale":{"domain":["up","down"],"range":["#00a651","#f4452a"]}}}},
{"data":{"name":"volAvg"},"mark":{"type":"line","color":"#b946c8","strokeWidth":2,"interpolate":"monotone"},"encoding":{"y":{"field":"a","type":"quantitative","axis":null,"scale":{"domain":[-0.0625,1.25],"range":[661,556],"zero":false,"nice":false}}}}
]},
{"encoding":{"x":{"field":"d","type":"quantitative","axis":null,"scale":{"domain":[-0.2,188],"range":[53,1095],"zero":false,"nice":false,"padding":0}}},
"layer":[
{"data":{"name":"candles"},"mark":{"type":"rule","color":"#1a1a1a","strokeWidth":1},"encoding":{"y":{"field":"l","type":"quantitative","axis":null,"scale":{"domain":[10789,16450],"range":[555,45],"zero":false,"nice":false}},"y2":{"field":"h"}}},
{"data":{"name":"candles"},"mark":{"type":"bar","size":3.5,"stroke":"#111","strokeWidth":1},"encoding":{"y":{"field":"o","type":"quantitative","stack":null,"axis":null,"scale":{"domain":[10789,16450],"range":[555,45],"zero":false,"nice":false}},"y2":{"field":"c"},"color":{"field":"t","type":"nominal","legend":null,"scale":{"domain":["up","down"],"range":["#0aa04a","#f0431f"]}}}},
{"data":{"name":"sma50"},"mark":{"type":"line","color":"#f4492f","strokeWidth":2,"interpolate":"basis"},"encoding":{"y":{"field":"p","type":"quantitative","axis":null,"scale":{"domain":[10789,16450],"range":[555,45],"zero":false,"nice":false}}}},
{"data":{"name":"sma200"},"mark":{"type":"line","color":"#000000","strokeWidth":2,"interpolate":"basis"},"encoding":{"y":{"field":"p","type":"quantitative","axis":null,"scale":{"domain":[10789,16450],"range":[555,45],"zero":false,"nice":false}}}},
{"data":{"values":[{"d":28,"p":12161}]},"mark":{"type":"point","filled":false,"size":16,"stroke":"#35c07a","strokeWidth":1,"opacity":1,"shape":"M-1 -0.4 A1 1 0 0 0 1 -0.4"},"encoding":{"y":{"field":"p","type":"quantitative","axis":null,"scale":{"domain":[10789,16450],"range":[555,45],"zero":false,"nice":false}}}},
{"data":{"values":[{"d":156,"p":15753}]},"mark":{"type":"point","filled":false,"size":16,"stroke":"#35c07a","strokeWidth":1,"opacity":1,"shape":"M-1 0.4 A1 1 0 0 1 1 0.4"},"encoding":{"y":{"field":"p","type":"quantitative","axis":null,"scale":{"domain":[10789,16450],"range":[555,45],"zero":false,"nice":false}}}}
]},
{"data":{"values":[{"series":"last","value":15380.75,"label":"15,380.75","col":0},{"series":"sma50","value":15082.13,"label":"15,082.13","col":0},{"series":"sma200","value":13755.78,"label":"13,755.78","col":0}]},
"encoding":{"x":{"field":"col","type":"quantitative","axis":null,"scale":{"domain":[0,1],"range":[1129,1229],"zero":false,"nice":false}},"y":{"field":"value","type":"quantitative","axis":null,"scale":{"domain":[10789,16450],"range":[555,45],"zero":false,"nice":false}}},
"layer":[
{"mark":{"type":"point","filled":true,"opacity":1,"size":4356,"shape":"M-1 0 L-0.82 -0.303 L1 -0.303 L1 0.303 L-0.82 0.303 Z"},"encoding":{"color":{"field":"series","type":"nominal","legend":null,"scale":{"domain":["last","sma50","sma200"],"range":["#f4452a","#f4452a","#000000"]}}}},
{"mark":{"type":"text","color":"white","fontWeight":"bold","fontSize":12,"dx":2.5,"baseline":"middle"},"encoding":{"text":{"field":"label"}}}
]},
{"data":{"values":[{"series":"avg","value":0.24,"label":"0.24M","col":0},{"series":"vol","value":0,"label":"0.00M","col":0}]},
"encoding":{"x":{"field":"col","type":"quantitative","axis":null,"scale":{"domain":[0,1],"range":[1120,1220],"zero":false,"nice":false}},"y":{"field":"value","type":"quantitative","axis":null,"scale":{"domain":[-0.0625,1.25],"range":[661,556],"zero":false,"nice":false}}},
"layer":[
{"mark":{"type":"point","filled":true,"opacity":1,"size":2500,"shape":"M-1 0 L-0.76 -0.37 L1 -0.37 L1 0.37 L-0.76 0.37 Z"},"encoding":{"color":{"field":"series","type":"nominal","legend":null,"scale":{"domain":["avg","vol"],"range":["#b946c8","#f4452a"]}}}},
{"mark":{"type":"text","color":"white","fontWeight":"bold","fontSize":12,"dx":2,"baseline":"middle"},"encoding":{"text":{"field":"label"}}}
]}
]}
